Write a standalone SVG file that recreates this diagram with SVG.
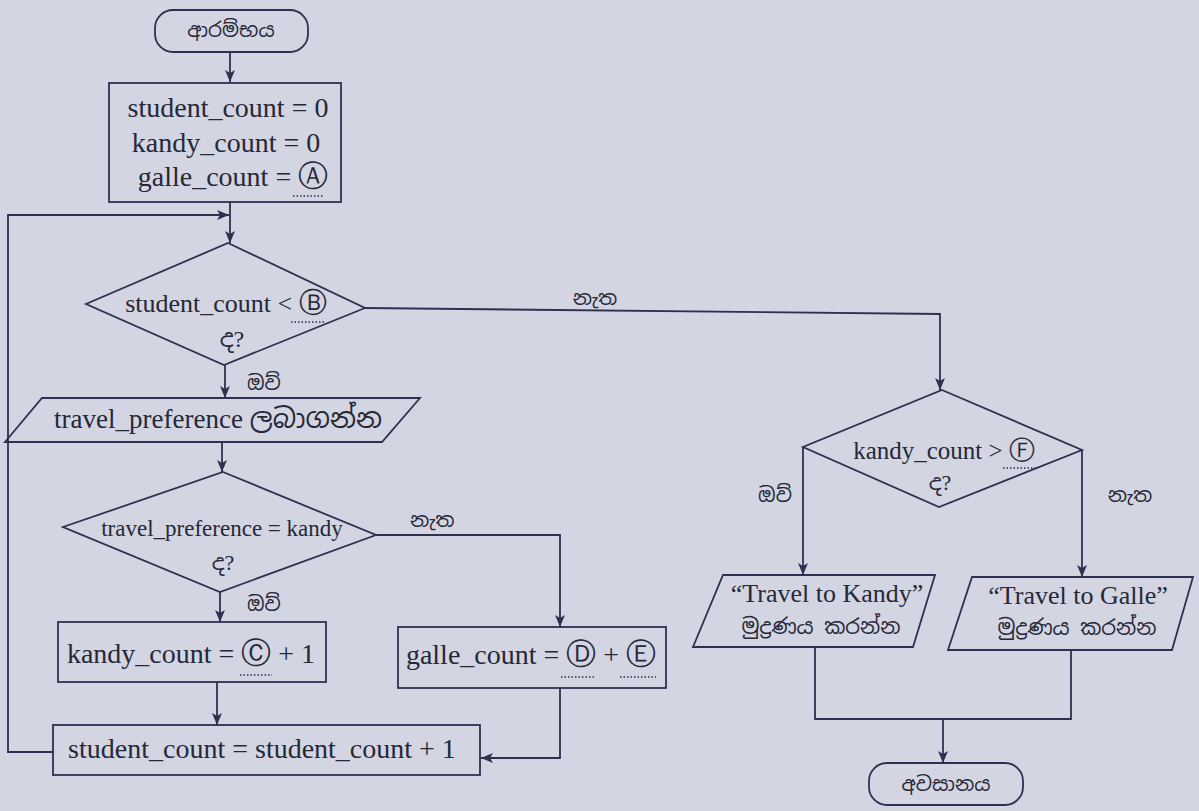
<svg xmlns="http://www.w3.org/2000/svg" width="1199" height="811" viewBox="0 0 1199 811">
<style>
.bg{fill:#d3d5e2}
.shape{fill:none;stroke:#2e3050;stroke-width:1.8}
.con{fill:none;stroke:#2e3050;stroke-width:1.8}
.t{font-family:"Liberation Serif","Noto Sans Sinhala","Noto Serif Sinhala",serif;fill:#262838}
.si{font-family:"Noto Sans Sinhala","Noto Serif Sinhala","Liberation Serif",sans-serif;fill:#262838}
.c{font-family:"DejaVu Sans",sans-serif}
.dot{fill:none;stroke:#2e3050;stroke-width:1.4;stroke-dasharray:1.5 2}
</style>
<defs>
<marker id="arr" markerUnits="userSpaceOnUse" markerWidth="12" markerHeight="10" refX="12" refY="5" orient="auto">
<path d="M0,0 L12,5 L0,10 L3,5 Z" fill="#2e3050"/>
</marker>
</defs>
<rect class="bg" x="0" y="0" width="1199" height="811"/>

<g id="connectors">
<path class="con" d="M230,53 V82" marker-end="url(#arr)"/>
<path class="con" d="M230,202 V243" marker-end="url(#arr)"/>
<path class="con" d="M53,752 H8 V215 H229" marker-end="url(#arr)"/>
<path class="con" d="M225,365 V398" marker-end="url(#arr)"/>
<path class="con" d="M365,308 L940,314 V390" marker-end="url(#arr)"/>
<path class="con" d="M222,442 V472" marker-end="url(#arr)"/>
<path class="con" d="M220,592 V622" marker-end="url(#arr)"/>
<path class="con" d="M376,535 H560 V627" marker-end="url(#arr)"/>
<path class="con" d="M217,682 V725" marker-end="url(#arr)"/>
<path class="con" d="M560,688 V758 H481" marker-end="url(#arr)"/>
<path class="con" d="M803,447 V575" marker-end="url(#arr)"/>
<path class="con" d="M1082,450 V577" marker-end="url(#arr)"/>
<path class="con" d="M815,647 V719 H1071 V650"/>
<path class="con" d="M943,719 V763" marker-end="url(#arr)"/>
<text class="si" x="595" y="305" font-size="20" text-anchor="middle">නැත</text>
<text class="si" x="247" y="390" font-size="20">ඔව්</text>
<text class="si" x="410" y="527" font-size="20">නැත</text>
<text class="si" x="247" y="611" font-size="20">ඔව්</text>
<text class="si" x="775" y="502" font-size="20" text-anchor="middle">ඔව්</text>
<text class="si" x="1130" y="502" font-size="20" text-anchor="middle">නැත</text>
</g>

<g id="start">
<rect class="shape" x="155" y="10" width="153" height="42" rx="18"/>
<text class="si" x="231" y="37" font-size="20" text-anchor="middle">ආරම්භය</text>
</g>

<g id="init">
<rect class="shape" x="109" y="83" width="232" height="119"/>
<text class="t" x="228" y="117" font-size="28" text-anchor="middle">student_count = 0</text>
<text class="t" x="226" y="152" font-size="28" text-anchor="middle">kandy_count = 0</text>
<text class="t" x="233" y="186" font-size="28" text-anchor="middle">galle_count = <tspan class="c" font-size="30">Ⓐ</tspan></text>
<path class="dot" d="M293,196 H324"/>
</g>

<g id="decision1">
<polygon class="shape" points="228,243 365,308 224,365 86,304"/>
<text class="t" x="226" y="312" font-size="26" text-anchor="middle">student_count &lt; <tspan class="c" font-size="28">Ⓑ</tspan></text>
<path class="dot" d="M291,322 H324"/>
<text class="t" x="232" y="347" font-size="24" text-anchor="middle">ද?</text>
</g>

<g id="input">
<polygon class="shape" points="42,398 420,398 382,442 5,442"/>
<text class="t" x="218" y="428" font-size="27" text-anchor="middle">travel_preference ලබාගන්න</text>
</g>

<g id="decision2">
<polygon class="shape" points="223,472 376,535 220,592 63,527"/>
<text class="t" x="222" y="536" font-size="23" text-anchor="middle">travel_preference = kandy</text>
<text class="t" x="223" y="570" font-size="22" text-anchor="middle">ද?</text>
</g>

<g id="kandy_inc">
<rect class="shape" x="58" y="622" width="268" height="60"/>
<text class="t" x="191" y="663" font-size="28" text-anchor="middle">kandy_count = <tspan class="c" font-size="30">Ⓒ</tspan> + 1</text>
<path class="dot" d="M240,675 H272"/>
</g>

<g id="galle_inc">
<rect class="shape" x="398" y="627" width="268" height="61"/>
<text class="t" x="531" y="664" font-size="28" text-anchor="middle">galle_count = <tspan class="c" font-size="30">Ⓓ</tspan> + <tspan class="c" font-size="30">Ⓔ</tspan></text>
<path class="dot" d="M561,677 H596"/>
<path class="dot" d="M620,677 H656"/>
</g>

<g id="student_inc">
<rect class="shape" x="53" y="725" width="427" height="50"/>
<text class="t" x="262" y="758" font-size="28" text-anchor="middle">student_count = student_count + 1</text>
</g>

<g id="decision3">
<polygon class="shape" points="942,390 1082,450 939,507 803,447"/>
<text class="t" x="944" y="459" font-size="25" text-anchor="middle">kandy_count &gt; <tspan class="c" font-size="26">Ⓕ</tspan></text>
<path class="dot" d="M1003,468 H1037"/>
<text class="t" x="940" y="490" font-size="22" text-anchor="middle">ද?</text>
</g>

<g id="out_kandy">
<polygon class="shape" points="723,575 935,575 913,647 693,647"/>
<text class="t" x="827" y="602" font-size="26" text-anchor="middle">“Travel to Kandy”</text>
<text class="si" x="821" y="634" font-size="21" text-anchor="middle">මුද්‍රණය කරන්න</text>
</g>

<g id="out_galle">
<polygon class="shape" points="972,577 1193,577 1172,650 948,650"/>
<text class="t" x="1078" y="604" font-size="26" text-anchor="middle">“Travel to Galle”</text>
<text class="si" x="1077" y="635" font-size="21" text-anchor="middle">මුද්‍රණය කරන්න</text>
</g>

<g id="end">
<rect class="shape" x="869" y="763" width="154" height="42" rx="18"/>
<text class="si" x="946" y="791" font-size="20" text-anchor="middle">අවසානය</text>
</g>
</svg>
